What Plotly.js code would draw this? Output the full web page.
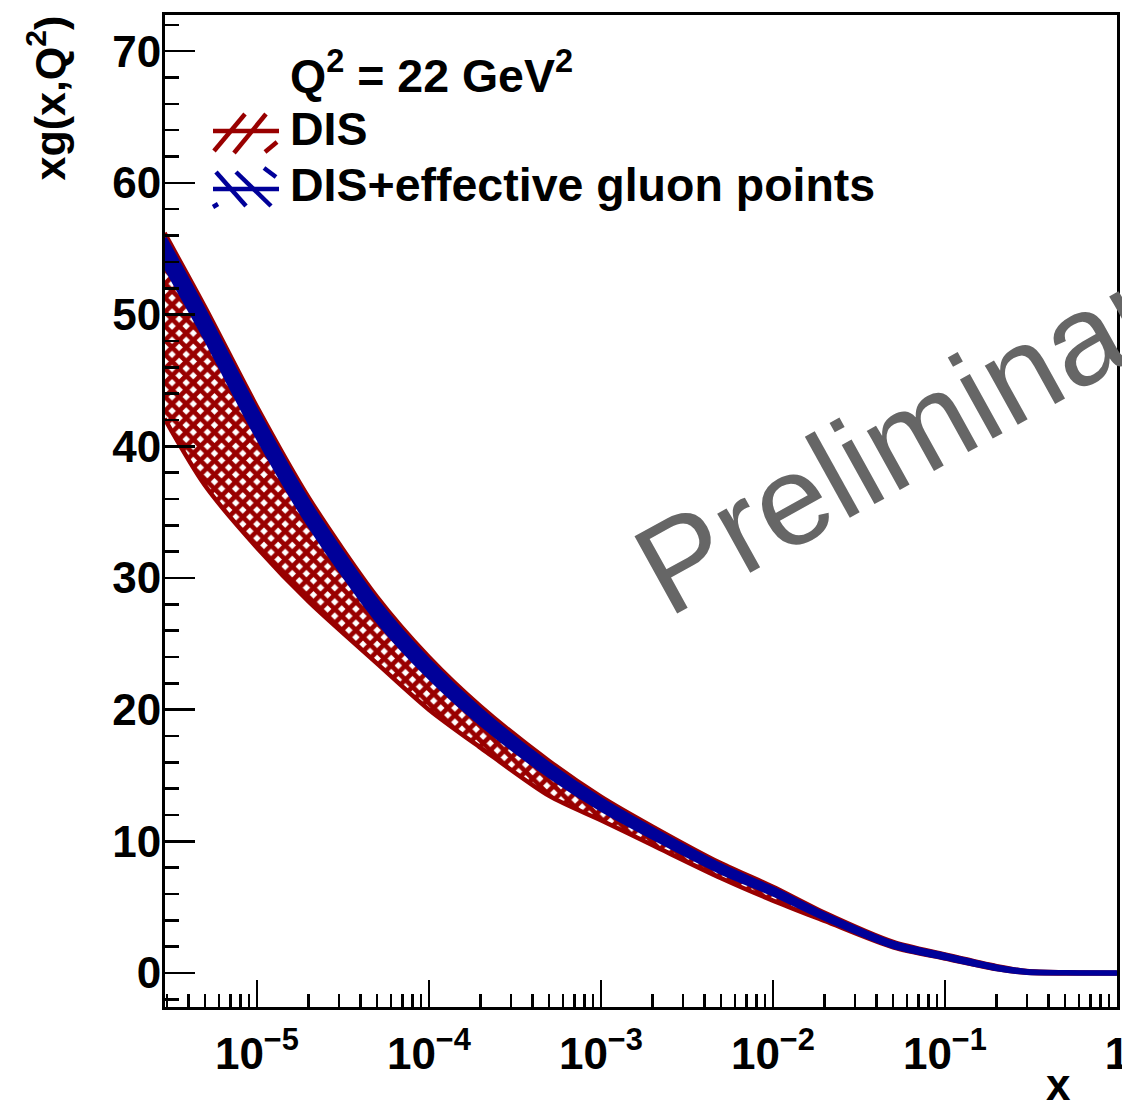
<!DOCTYPE html>
<html>
<head>
<meta charset="utf-8">
<script src="https://cdn.plot.ly/plotly-3.0.1.min.js"></script>
<style>
  html, body { margin: 0; padding: 0; background: #ffffff; }
  #plot { width: 1122px; height: 1105px; }
</style>
</head>
<body>
<div id="plot"></div>
<script>
// Gluon momentum density xg(x, Q^2) at Q^2 = 22 GeV^2: uncertainty bands
const xValues = [2.9e-6, 5e-6, 1e-5, 2e-5, 5e-5, 1e-4, 2e-4, 5e-4, 1e-3, 2e-3, 5e-3,
                 1e-2, 2e-2, 5e-2, 0.1, 0.2, 0.3, 0.5, 1];

// DIS-only fit band
const disUpper = [56.2, 50.55, 43.0, 36.1, 28.55, 24.0, 20.25, 16.1, 13.4, 11.12, 8.33,
                  6.55, 4.58, 2.37, 1.42, 0.52, 0.15, 0.05, 0.03];
const disLower = [42.1, 37.0, 32.3, 28.2, 23.5, 20.0, 17.1, 13.45, 11.6, 9.7, 7.2,
                  5.5, 3.95, 1.95, 1.1, 0.3, 0.02, -0.03, -0.03];

// DIS + effective gluon points fit band
const effUpper = [55.8, 50.15, 42.6, 35.7, 28.2, 23.7, 19.95, 15.82, 13.16, 10.9, 8.14,
                  6.39, 4.45, 2.27, 1.35, 0.47, 0.12, 0.04, 0.02];
const effLower = [53.8, 48.25, 40.8, 34.1, 26.8, 22.5, 18.95, 14.98, 12.44, 10.3, 7.66,
                  6.01, 4.15, 2.03, 1.15, 0.33, 0.04, 0.0, -0.02];

const xTickVals = [1e-5, 1e-4, 1e-3, 1e-2, 1e-1, 1];
const xTickText = ['10<sup>\u22125</sup>', '10<sup>\u22124</sup>', '10<sup>\u22123</sup>',
                   '10<sup>\u22122</sup>', '10<sup>\u22121</sup>', '1'];

const seriesNames = ['DIS', 'DIS+effective gluon points'];
const panelLabel = 'Q<sup>2</sup> = 22 GeV<sup>2</sup>';

const RED = '#990000';
const BLUE = '#000099';
const FONT = '"Liberation Sans", Arial, Helvetica, sans-serif';

// minor ticks at 2..9 times each decade
const xMinor = [];
for (let e = -6; e <= -1; e++) {
  for (let m = 2; m <= 9; m++) xMinor.push(m * Math.pow(10, e));
}

// frame geometry (pixels) used for the hand-drawn legend and labels
const W = 1122, H = 1105;
const FL = 165, FR = 1117, FT = 15, FB = 1007;
const px = v => (v - FL) / (FR - FL);
const py = v => (FB - v) / (FB - FT);

const traces = [
  { x: xValues, y: disLower, type: 'scatter', mode: 'lines',
    line: { color: RED, width: 4.5, shape: 'spline', smoothing: 0.8 },
    showlegend: false, hoverinfo: 'skip' },
  { x: xValues, y: disUpper, type: 'scatter', mode: 'lines', name: seriesNames[0],
    line: { color: RED, width: 4.5, shape: 'spline', smoothing: 0.8 },
    fill: 'tonexty', fillcolor: 'rgba(255,255,255,0)',
    fillpattern: { shape: 'x', size: 10, solidity: 0.72, fgcolor: RED,
                   bgcolor: 'rgba(255,255,255,0)', fillmode: 'replace' },
    showlegend: false },
  { x: xValues, y: effLower, type: 'scatter', mode: 'lines',
    line: { color: BLUE, width: 5, shape: 'spline', smoothing: 0.8 },
    showlegend: false, hoverinfo: 'skip' },
  { x: xValues, y: effUpper, type: 'scatter', mode: 'lines', name: seriesNames[1],
    line: { color: BLUE, width: 5, shape: 'spline', smoothing: 0.8 },
    fill: 'tonexty', fillcolor: BLUE, showlegend: false }
];

// legend glyphs: hatched-fill style markers
function seg(x0, y0, x1, y1, color) {
  return { type: 'line', xref: 'paper', yref: 'paper',
           x0: px(x0), y0: py(y0), x1: px(x1), y1: py(y1),
           line: { color: color, width: 4.5 } };
}
const shapes = [
  seg(213, 131, 279, 131, RED),
  seg(214, 151, 245, 114, RED),
  seg(234, 153, 266, 114, RED),
  seg(265, 152, 277, 142, RED),
  seg(213, 189, 279, 189, BLUE),
  seg(216, 172, 246, 206, BLUE),
  seg(236, 172, 271, 206, BLUE),
  seg(264, 168, 276, 177, BLUE),
  seg(213, 207, 218, 204, BLUE)
];

const annotations = [
  { text: panelLabel, xref: 'paper', yref: 'paper', x: px(288), y: py(72),
    xanchor: 'left', yanchor: 'middle', showarrow: false,
    font: { family: FONT, size: 46.5, color: '#000', weight: 'bold' } },
  { text: seriesNames[0], xref: 'paper', yref: 'paper', x: px(288), y: py(129),
    xanchor: 'left', yanchor: 'middle', showarrow: false,
    font: { family: FONT, size: 46.5, color: '#000', weight: 'bold' } },
  { text: seriesNames[1], xref: 'paper', yref: 'paper', x: px(288), y: py(185),
    xanchor: 'left', yanchor: 'middle', showarrow: false,
    font: { family: FONT, size: 46.5, color: '#000', weight: 'bold' } },
  { text: 'xg(x,Q<sup>2</sup>)', xref: 'paper', yref: 'paper', x: px(46), y: py(14),
    xanchor: 'center', yanchor: 'top', textangle: -90, showarrow: false,
    font: { family: FONT, size: 43, color: '#000', weight: 'bold' } },
  { text: 'x', xref: 'paper', yref: 'paper', x: px(1073), y: py(1058),
    xanchor: 'right', yanchor: 'top', showarrow: false,
    font: { family: FONT, size: 44, color: '#000', weight: 'bold' } },
  { text: 'Preliminary', xref: 'paper', yref: 'paper', x: px(926), y: py(424),
    xanchor: 'center', yanchor: 'middle', textangle: -29, showarrow: false,
    font: { family: FONT, size: 128, color: '#666666' } }
];

const layout = {
  width: W, height: H,
  margin: { l: FL, r: W - FR, t: FT, b: H - FB, pad: 0 },
  paper_bgcolor: '#ffffff', plot_bgcolor: '#ffffff',
  showlegend: false,
  font: { family: FONT, color: '#000' },
  xaxis: {
    type: 'log', range: [Math.log10(2.92e-6), 0.0004],
    tickmode: 'array', tickvals: xTickVals, ticktext: xTickText,
    ticks: 'inside', ticklen: 27, tickwidth: 2.5, tickcolor: '#000',
    minor: { tickmode: 'array', tickvals: xMinor, ticks: 'inside', ticklen: 13,
             tickwidth: 2.5, tickcolor: '#000', showgrid: false },
    showgrid: false, zeroline: false,
    showline: true, linecolor: '#000', linewidth: 3, mirror: true,
    tickfont: { family: FONT, size: 44, color: '#000', weight: 'bold' },
    ticklabelstandoff: 6, ticklabeloverflow: 'allow'
  },
  yaxis: {
    range: [-2.58, 72.75],
    tickmode: 'linear', tick0: 0, dtick: 10,
    ticks: 'inside', ticklen: 30, tickwidth: 2.5, tickcolor: '#000',
    minor: { dtick: 2, ticks: 'inside', ticklen: 14, tickwidth: 2.5,
             tickcolor: '#000', showgrid: false },
    showgrid: false, zeroline: false,
    showline: true, linecolor: '#000', linewidth: 3, mirror: true,
    tickfont: { family: FONT, size: 44, color: '#000', weight: 'bold' },
    ticklabelstandoff: -8
  },
  shapes: shapes,
  annotations: annotations
};

Plotly.newPlot('plot', traces, layout, { staticPlot: true, displayModeBar: false });
</script>
</body>
</html>
